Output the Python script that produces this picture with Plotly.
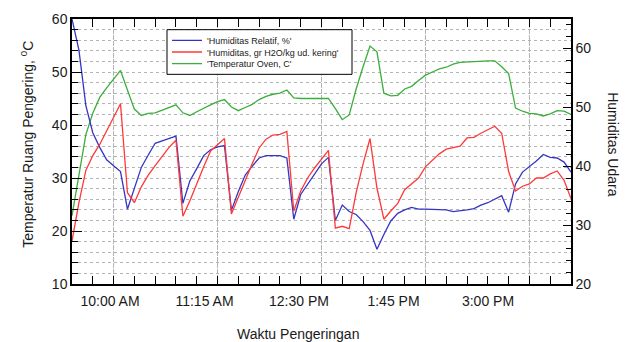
import plotly.graph_objects as go
import pandas as pd

# Time axis: readings every 5 minutes from 09:30 to 15:30
times = pd.date_range("2020-01-01 09:30", periods=73, freq="5min")

humid_rel = [65.0, 59.7, 50.3, 45.7, 43.2, 41.1, 40.1, 39.1, 32.7, 36.2,
             39.8, 41.9, 43.9, 44.3, 44.7, 45.1, 33.7, 37.5, 39.6, 41.8,
             42.8, 43.3, 43.5, 32.5, 35.7, 38.5, 40.0, 41.4, 41.8, 41.8,
             41.8, 41.4, 31.0, 35.2, 37.0, 38.8, 40.4, 41.5, 30.8, 33.4,
             32.3, 31.8, 30.6, 29.1, 25.9, 28.4, 30.7, 32.0, 32.6, 33.0,
             32.7, 32.7, 32.7, 32.7, 32.6, 32.3, 32.4, 32.6, 32.8, 33.4,
             33.8, 34.4, 35.0, 32.2, 37.0, 39.0, 39.9, 40.9, 42.0, 41.5,
             41.4, 40.7, 39.0]

humid_abs = [27.3, 33.8, 39.3, 41.8, 43.7, 46.0, 48.4, 50.6, 35.5, 33.8,
             36.5, 38.5, 40.1, 41.6, 43.2, 44.4, 31.5, 34.1, 37.1, 39.9,
             42.6, 43.7, 44.7, 31.9, 34.8, 37.6, 40.4, 43.1, 44.6, 45.3,
             45.4, 45.9, 32.4, 35.8, 38.0, 39.7, 41.3, 42.7, 29.5, 29.8,
             29.4, 35.5, 40.4, 44.7, 36.3, 31.0, 32.4, 33.7, 36.0, 37.0,
             38.0, 39.9, 41.0, 42.1, 42.9, 43.1, 43.4, 44.8, 44.9, 45.6,
             46.2, 46.8, 45.6, 39.1, 35.8, 36.6, 37.0, 38.0, 38.0, 38.7,
             39.2, 37.6, 34.5]

temp_oven = [22.9, 30.9, 38.2, 42.2, 45.2, 47.0, 48.6, 50.3, 46.6, 43.0,
             41.8, 42.2, 42.3, 42.8, 43.2, 43.8, 42.3, 41.8, 42.5, 43.2,
             43.8, 44.4, 44.8, 43.4, 42.7, 43.3, 43.9, 44.8, 45.4, 45.8,
             46.0, 46.6, 45.1, 45.0, 45.0, 45.0, 45.0, 45.0, 43.1, 41.0,
             41.9, 46.8, 51.0, 54.9, 53.8, 46.0, 45.5, 45.6, 46.8, 47.3,
             48.4, 49.4, 50.0, 50.6, 50.9, 51.5, 51.8, 51.9, 52.0, 52.1,
             52.1, 52.1, 51.0, 49.7, 43.2, 42.6, 42.2, 42.1, 41.7, 42.1,
             42.7, 42.6, 42.0]

# major time ticks (every 75 minutes)
major_times = ["2020-01-01 10:00", "2020-01-01 11:15", "2020-01-01 12:30",
               "2020-01-01 13:45", "2020-01-01 15:00"]

series_names = ["'Humiditas Relatif, %'",
                "'Humiditas, gr H2O/kg ud. kering'",
                "'Temperatur Oven, C'"]
x_title = "Waktu Pengeringan"
y_left_title = "Temperatur Ruang Pengering, <sup>0</sup>C"
y_right_title = "Humiditas Udara"

FONT = "Liberation Sans, Arial, sans-serif"
TXT = "#1a1a1a"
GRID = "#b4b4b4"

# plot area in pixels: x 72..571, y 11..284
PL, PR, PT, PB = 72, 571, 11, 284
def px_x(p):
    return (p - PL) / (PR - PL)
def px_y(p):
    return (PB - p) / (PB - PT)

fig = go.Figure()
fig.add_trace(go.Scatter(x=times, y=humid_rel, name=series_names[0], mode="lines",
                         line=dict(color="#3535c4", width=1.3), yaxis="y2",
                         legend="legend"))
fig.add_trace(go.Scatter(x=times, y=humid_abs, name=series_names[1], mode="lines",
                         line=dict(color="#ff3838", width=1.3), yaxis="y2",
                         legend="legend2"))
fig.add_trace(go.Scatter(x=times, y=temp_oven, name=series_names[2], mode="lines",
                         line=dict(color="#3aae3a", width=1.3), yaxis="y",
                         legend="legend3"))
# empty helper trace so that the label axis (x2) is rendered
fig.add_trace(go.Scatter(x=times[:1], y=[None], xaxis="x2", yaxis="y",
                         showlegend=False, hoverinfo="skip", mode="lines"))

legend_common = dict(xanchor="left", yanchor="middle",
                     bgcolor="rgba(0,0,0,0)", borderwidth=0,
                     font=dict(family=FONT, size=9, color=TXT),
                     itemwidth=30)
row_y = [33, 45, 57]

# vertical dotted grid lines at the major time ticks (x data scale)
vgrid = [dict(type="line", xref="x", yref="paper", x0=t, x1=t, y0=0, y1=1,
              line=dict(color=GRID, width=1, dash="dot"), layer="below")
         for t in major_times]

fig.update_layout(
    width=631, height=342,
    margin=dict(l=PL, r=631 - PR, t=PT, b=342 - PB),
    paper_bgcolor="white", plot_bgcolor="white",
    font=dict(family=FONT, size=14, color=TXT),
    showlegend=True,
    legend=dict(x=px_x(167), y=px_y(row_y[0]), **legend_common),
    legend2=dict(x=px_x(167), y=px_y(row_y[1]), **legend_common),
    legend3=dict(x=px_x(167), y=px_y(row_y[2]), **legend_common),
    xaxis=dict(
        type="date",
        range=["2020-01-01 09:30", "2020-01-01 15:30"],
        tick0="2020-01-01 10:00", dtick=75 * 60 * 1000,
        showticklabels=False,
        ticks="inside", ticklen=8, tickcolor="black",
        showline=True, linecolor="black", linewidth=1.5, mirror="allticks",
        showgrid=True, gridcolor=GRID, griddash="dot", gridwidth=1,
        minor=dict(dtick=15 * 60 * 1000, ticks="inside", ticklen=6,
                   tickcolor="black", showgrid=False),
        zeroline=False,
    ),
    xaxis2=dict(
        type="date", overlaying="x", side="bottom", anchor="y",
        range=["2020-01-01 09:29:50", "2020-01-01 16:05:52"],
        tick0="2020-01-01 10:00", dtick=75 * 60 * 1000,
        tickformat="%-I:%M %p", ticklabelstandoff=7,
        ticks="", showline=False, showgrid=False, zeroline=False,
        tickfont=dict(family=FONT, size=14, color=TXT),
    ),
    yaxis=dict(
        range=[10, 60], dtick=10,
        ticks="inside", ticklen=10, tickcolor="black",
        showline=True, linecolor="black", linewidth=1.5,
        showgrid=True, gridcolor=GRID, griddash="dot", gridwidth=1,
        minor=dict(dtick=2, ticks="inside", ticklen=6, tickcolor="black",
                   showgrid=True, gridcolor=GRID, griddash="dot", gridwidth=1),
        zeroline=False,
        tickfont=dict(family=FONT, size=14, color=TXT),
    ),
    yaxis2=dict(
        range=[20, 65], dtick=10, tick0=20,
        overlaying="y", side="right", anchor="x",
        ticks="inside", ticklen=8, tickcolor="black",
        showline=True, linecolor="black", linewidth=1.5,
        showgrid=False, zeroline=False,
        minor=dict(dtick=2, ticks="inside", ticklen=5, tickcolor="black",
                   showgrid=False),
        tickfont=dict(family=FONT, size=14, color=TXT),
    ),
    shapes=vgrid + [
        dict(type="rect", xref="paper", yref="paper",
             x0=px_x(167), x1=px_x(352), y0=px_y(68), y1=px_y(22),
             line=dict(color="black", width=1), fillcolor="white",
             layer="above"),
    ],
    annotations=[
        dict(text=x_title, xref="paper", yref="paper", x=px_x(297.5), y=px_y(335),
             xanchor="center", yanchor="middle", showarrow=False,
             font=dict(family=FONT, size=14, color=TXT)),
        dict(text=y_left_title, xref="paper", yref="paper", x=px_x(27), y=px_y(140.5),
             xanchor="center", yanchor="middle", showarrow=False, textangle=-90,
             font=dict(family=FONT, size=14, color=TXT)),
        dict(text=y_right_title, xref="paper", yref="paper", x=px_x(613), y=px_y(140),
             xanchor="center", yanchor="middle", showarrow=False, textangle=90,
             font=dict(family=FONT, size=14, color=TXT)),
    ],
)

fig.write_html("out.html")
